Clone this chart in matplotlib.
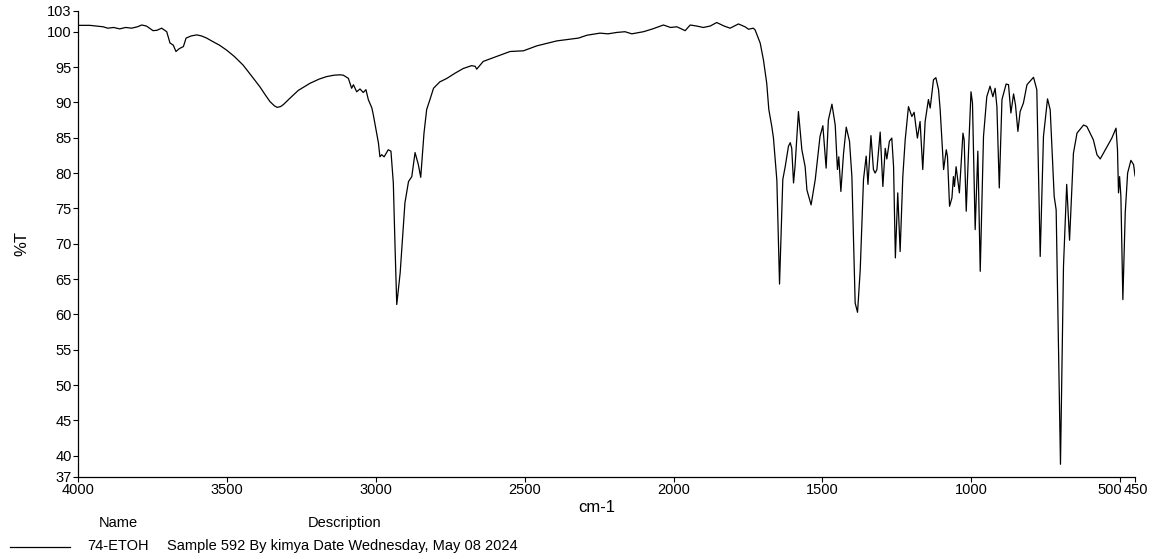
import matplotlib
matplotlib.use("Agg")
import matplotlib.pyplot as plt
import matplotlib.transforms as mtransforms
import numpy as np

plt.rcParams['font.family'] = ['Liberation Sans', 'DejaVu Sans']

# FTIR spectrum, 74-ETOH: wavenumber (cm-1) and transmittance (%T)
wn_high = [4000, 3960, 3916, 3900, 3880, 3860, 3840, 3820, 3800, 3786, 3770,
           3748, 3735, 3719, 3702, 3691, 3680, 3671, 3660, 3646, 3637, 3620,
           3601, 3585, 3568, 3547, 3525, 3501, 3475, 3446, 3420, 3389, 3370,
           3355, 3340, 3331, 3320, 3310, 3288, 3260, 3221, 3190, 3165, 3140,
           3120, 3109, 3092, 3081, 3075, 3064, 3053, 3042, 3033, 3025, 3013,
           3008, 2991, 2986, 2980, 2972, 2958, 2949, 2941, 2935, 2929.5, 2918,
           2902, 2890, 2879, 2868, 2857, 2849, 2838, 2829, 2818, 2806, 2785,
           2761, 2735, 2706, 2678, 2666, 2661, 2639, 2594, 2549, 2504, 2459,
           2392, 2319, 2291, 2247, 2220, 2190, 2163, 2140, 2101, 2070, 2034,
           2010, 1989, 1961, 1944, 1922, 1900, 1877, 1855, 1830, 1810, 1782,
           1760, 1748, 1732, 1726]
t_high = [100.9, 100.9, 100.7, 100.5, 100.6, 100.4, 100.6, 100.5, 100.7, 100.95, 100.8,
          100.15, 100.2, 100.5, 100.0, 98.4, 98.1, 97.2, 97.6, 97.9, 99.1, 99.4,
          99.55, 99.4, 99.1, 98.6, 98.1, 97.4, 96.5, 95.3, 93.9, 92.2, 91.0,
          90.1, 89.5, 89.3, 89.4, 89.7, 90.6, 91.7, 92.7, 93.3, 93.65, 93.85,
          93.9, 93.85, 93.4, 92.0, 92.5, 91.5, 91.9, 91.4, 91.8, 90.4, 89.2,
          88.2, 84.25, 82.3, 82.6, 82.3, 83.3, 83.1, 78.6, 69.2, 61.4, 65.9,
          75.8, 78.8, 79.5, 82.9, 81.2, 79.4, 85.65, 89.0, 90.4, 92.0, 92.9,
          93.4, 94.1, 94.8, 95.2, 95.1, 94.7, 95.8, 96.5, 97.2, 97.3, 98.0,
          98.7, 99.1, 99.5, 99.8, 99.7, 99.9, 100.0, 99.7, 100.0, 100.4, 100.95,
          100.6, 100.7, 100.15, 100.95, 100.8, 100.6, 100.8, 101.3, 100.8, 100.5, 101.1,
          100.7, 100.35, 100.5, 100.25]

wn_fp = [1709, 1698, 1687, 1680, 1670, 1664.5, 1653, 1644, 1633, 1625, 1614,
         1608, 1603, 1597, 1592, 1580.5, 1569, 1558, 1552, 1538, 1524, 1508,
         1498.5, 1487.5, 1480, 1468, 1457, 1449.5, 1445, 1438, 1429, 1420,
         1409, 1401, 1390, 1382, 1373, 1362, 1353, 1347, 1337, 1328.6, 1323,
         1317, 1306, 1297, 1289, 1283.6, 1275, 1267, 1261, 1255, 1247, 1239,
         1230, 1222, 1211, 1199.6, 1192, 1181, 1172, 1163, 1155, 1144, 1138,
         1127, 1119, 1110, 1104.5, 1093, 1084, 1080, 1073, 1065, 1060, 1056.5,
         1051, 1040, 1028, 1024, 1017, 1009.5, 1001, 996, 987, 978, 970,
         964.5, 959, 948, 937, 927.5, 920, 914, 906, 897, 890, 883, 875, 867,
         858, 851.6, 843.5, 836, 825, 813, 791, 780, 768.6, 757.6, 744, 735,
         721.6, 715, 700.5, 690.4, 679.6, 670, 657, 645, 623, 612, 590, 578,
         567, 550, 528, 514, 509, 505.6, 502, 497.6, 491, 483, 475, 464, 455, 450]
t_fp = [98.4, 96.0, 92.7, 89.0, 86.6, 85.0, 79.0, 64.3, 79.1, 80.9, 83.8,
        84.3, 83.5, 78.6, 80.9, 88.7, 83.3, 80.9, 77.6, 75.5, 79.1, 85.2,
        86.7, 80.7, 87.5, 89.75, 86.8, 80.5, 82.3, 77.4, 82.8, 86.5,
        84.5, 79.5, 61.6, 60.3, 66.3, 79.1, 82.4, 78.4, 85.3, 80.5, 80.0,
        80.5, 85.8, 78.1, 83.5, 82.0, 84.5, 84.95, 80.9, 68.0, 77.2, 68.9,
        79.5, 84.7, 89.4, 88.0, 88.6, 84.95, 87.3, 80.5, 87.3, 90.4, 89.2,
        93.2, 93.5, 91.8, 88.95, 80.5, 83.3, 82.35, 75.3, 76.5, 79.5, 78.1,
        80.9, 77.2, 85.65, 84.7, 74.6, 82.8, 91.5, 89.9, 72.0, 83.1, 66.1,
        75.8, 85.2, 90.8, 92.3, 90.8, 92.0, 89.4, 77.9, 90.4, 91.5, 92.6, 92.5, 88.5,
        91.2, 89.65, 85.9, 88.7, 89.9, 92.5, 93.55, 91.8, 68.2, 85.2, 90.5, 88.95,
        76.7, 74.8, 38.8, 66.8, 78.4, 70.5, 82.8, 85.65, 86.8, 86.6, 84.7, 82.6,
        82.0, 83.3, 84.95, 86.35, 83.3, 77.2, 79.5, 76.7, 62.1, 74.4, 80.0, 81.8, 81.2, 79.6]

x_ticks = [4000, 3500, 3000, 2500, 2000, 1500, 1000, 500, 450]
y_ticks = [37, 40, 45, 50, 55, 60, 65, 70, 75, 80, 85, 90, 95, 100, 103]

sample_name = "74-ETOH"
sample_desc = "Sample 592 By kimya Date Wednesday, May 08 2024"

wn = np.array(wn_high + wn_fp)
tr = np.array(t_high + t_fp)

fig = plt.figure(figsize=(11.52, 5.59), dpi=100)
ax = fig.add_axes([0.0677, 0.1467, 0.9176, 0.8345])
ax.plot(wn, tr, color="black", linewidth=0.9)

ax.set_xlim(4000, 450)
ax.set_ylim(37, 103)
ax.set_xticks(x_ticks)
ax.set_xticklabels([str(v) for v in x_ticks])
ax.set_yticks(y_ticks)
ax.set_yticklabels([str(v) for v in y_ticks])
ax.tick_params(axis="both", direction="out", length=3.5, width=0.8,
               labelsize=10.5, pad=1, colors="black")
for side in ("top", "right"):
    ax.spines[side].set_visible(False)
for side in ("left", "bottom"):
    ax.spines[side].set_linewidth(0.9)

# the two closely spaced end ticks: push "500" left of its tick so it
# sits flush against "450"
for lbl in ax.get_xticklabels():
    if lbl.get_text() == "500":
        lbl.set_horizontalalignment("right")
        lbl.set_transform(lbl.get_transform() +
                          mtransforms.ScaledTranslation(2 / 100, 0, fig.dpi_scale_trans))
    elif lbl.get_text() == "450":
        lbl.set_transform(lbl.get_transform() +
                          mtransforms.ScaledTranslation(0.5 / 100, 0, fig.dpi_scale_trans))

fig.text(597 / 1152, 1 - 508 / 559, "cm-1", ha="center", va="center", fontsize=12)
fig.text(22 / 1152, 1 - 243 / 559, "%T", ha="center", va="center",
         rotation=90, fontsize=12)

# legend block below the axes
fig.text(118 / 1152, 1 - 523 / 559, "Name", ha="center", va="center", fontsize=10.5)
fig.text(345 / 1152, 1 - 523 / 559, "Description", ha="center", va="center", fontsize=10.5)
fig.add_artist(plt.Line2D([10 / 1152, 70 / 1152], [1 - 547 / 559, 1 - 547 / 559],
                          color="black", linewidth=0.9))
fig.text(87 / 1152, 1 - 546 / 559, sample_name, ha="left", va="center", fontsize=10.5)
fig.text(167 / 1152, 1 - 546 / 559, sample_desc, ha="left", va="center", fontsize=10.5)

fig.savefig("out.png", dpi=100, facecolor="white")
